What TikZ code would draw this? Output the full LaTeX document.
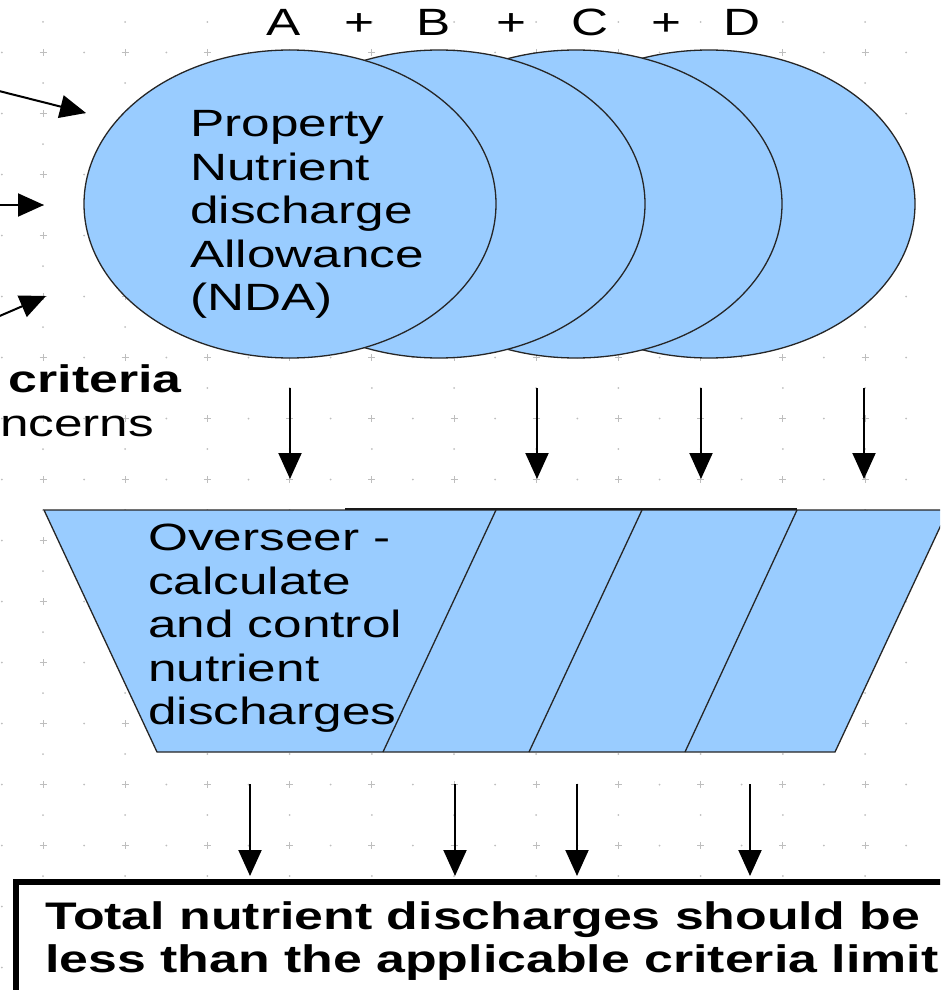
\documentclass[tikz,border=0pt]{standalone}
\usepackage{fontspec}
\setmainfont{Liberation Sans}[FakeStretch=1.35]
\usetikzlibrary{arrows.meta,shapes.geometric}
\definecolor{fillblue}{HTML}{99CCFF}
\definecolor{gridgray}{HTML}{BEBEBE}
\begin{document}
\begin{tikzpicture}[x=1pt,y=-1pt,
  blob/.style={ellipse, draw=black!85, line width=1.3pt, fill=fillblue,
    minimum width=412pt, minimum height=308pt, inner sep=0pt},
  outl/.style={draw=black!85, line width=1.3pt},
  txt/.style={font=\fontsize{38}{43.5}\selectfont, inner sep=0pt, align=left},
  btxt/.style={font=\fontsize{38.4}{43}\selectfont\bfseries, inner sep=0pt, align=left},
  arr/.style={line width=2pt, -{Triangle[width=23pt,length=26pt]}}
]
\useasboundingbox (0,0) rectangle (940,990);
\clip (0,0) rectangle (940,990);
% background grid
\foreach \i in {-1,...,11}{
  \foreach \j in {-1,...,16}{
    \pgfmathsetmacro\gx{43+82.2*\i}
    \pgfmathsetmacro\gy{52.5+61*\j}
    \draw[gridgray, line width=0.8pt] (\gx-3.5,\gy) -- (\gx+3.5,\gy) (\gx,\gy-3.5) -- (\gx,\gy+3.5);
    \fill[gridgray] (\gx+41.1,\gy) circle (1pt) (\gx,\gy+30.5) circle (1pt);
  }
}
% top labels
\node[txt, anchor=base] (labA) at (284,36) {A};
\node[txt, anchor=base] (plus1) at (359,36) {+};
\node[txt, anchor=base] (labB) at (434,36) {B};
\node[txt, anchor=base] (plus2) at (511,36) {+};
\node[txt, anchor=base] (labC) at (590,36) {C};
\node[txt, anchor=base] (plus3) at (666,36) {+};
\node[txt, anchor=base] (labD) at (742,36) {D};
% ellipses
\node[blob] (ellD) at (709,204) {};
\node[blob] (ellC) at (576,204) {};
\node[blob] (ellB) at (439,204) {};
\node[blob] (ellA) at (290,204) {};
\node[txt, anchor=north west] (nda) at (190,110.5)
  {Property\\Nutrient\\discharge\\Allowance\\(NDA)};
% left incoming arrows
\coordinate (in1s) at (-5,90);  \coordinate (in1e) at (86,113);
\coordinate (in2s) at (-5,205); \coordinate (in2e) at (44,205);
\coordinate (in3s) at (-5,318); \coordinate (in3e) at (46,296);
\draw[arr] (in1s) -- (in1e);
\draw[arr] (in2s) -- (in2e);
\draw[arr] (in3s) -- (in3e);
% left texts
\node[btxt, anchor=base east] (crit) at (182,392) {criteria};
\node[txt, anchor=base west] (conc) at (0,436) {ncerns};
% trapezoid
\coordinate (tl) at (44,510);
\coordinate (tr) at (948,510);
\coordinate (br) at (835,752);
\coordinate (bl) at (157,752);
\draw[outl, fill=fillblue] (tl) -- (tr) -- (br) -- (bl) -- cycle;
\coordinate (d1t) at (496,510); \coordinate (d1b) at (383,752);
\coordinate (d2t) at (642,510); \coordinate (d2b) at (529,752);
\coordinate (d3t) at (797,510); \coordinate (d3b) at (685,752);
\draw[outl] (d1t) -- (d1b) (d2t) -- (d2b) (d3t) -- (d3b);
\coordinate (thk1) at (345,509.3); \coordinate (thk2) at (797,509.3);
\draw[line width=2.2pt, black!90] (thk1) -- (thk2);
\node[txt, anchor=north west] (ovs) at (148,524)
  {Overseer -\\calculate\\and control\\nutrient\\discharges};
% arrows ellipses -> trapezoid
\foreach \x [count=\k] in {290,537,701,864}{
  \coordinate (ua\k) at (\x,388);
  \coordinate (ub\k) at (\x,479);
  \draw[arr] (ua\k) -- (ub\k);
}
% arrows trapezoid -> box
\foreach \x [count=\k] in {250,455,577,750}{
  \coordinate (la\k) at (\x,784);
  \coordinate (lb\k) at (\x,876);
  \draw[arr] (la\k) -- (lb\k);
}
% bottom box
\coordinate (bx1) at (16,882);
\coordinate (bx2) at (1000,1040);
\draw[line width=6pt, fill=white] (bx1) rectangle (bx2);
\node[btxt, anchor=north west] (total) at (45,901.5)
  {Total nutrient discharges should be\\less than the applicable criteria limit};
\end{tikzpicture}
\end{document}
